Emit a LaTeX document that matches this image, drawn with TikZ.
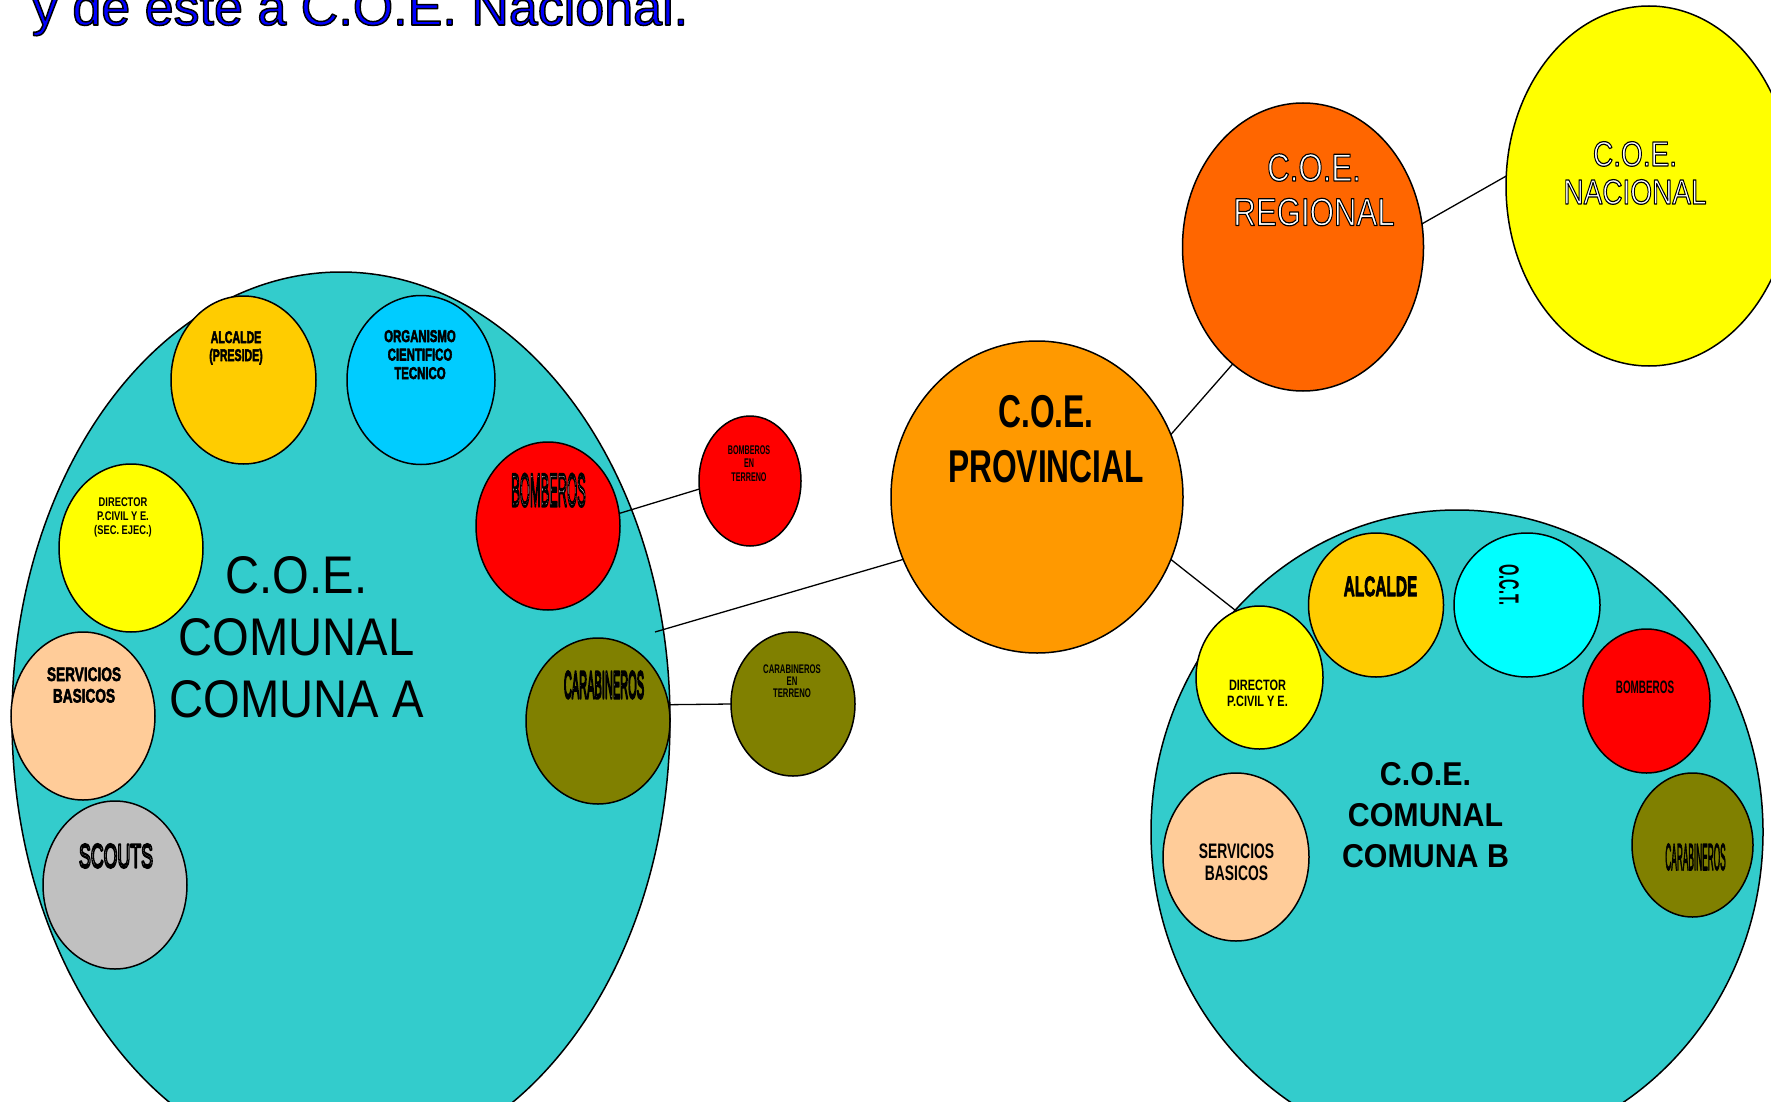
\documentclass[tikz,border=0pt]{standalone}
\usepackage{fontspec}
\setmainfont{Liberation Sans}
\usepackage{graphicx}
\usetikzlibrary{shapes.geometric}
\definecolor{teal1}{HTML}{33CCCC}
\definecolor{gold1}{HTML}{FFCC00}
\definecolor{sky1}{HTML}{00CCFF}
\definecolor{peach1}{HTML}{FFCC99}
\definecolor{gray1}{HTML}{C0C0C0}
\definecolor{olive1}{HTML}{808000}
\definecolor{orange1}{HTML}{FF9900}
\definecolor{orange2}{HTML}{FF6600}
\definecolor{yellow1}{HTML}{FFFF00}
\definecolor{cyan1}{HTML}{00FFFF}
\definecolor{red1}{HTML}{FF0000}
\definecolor{blue1}{HTML}{0000FF}
\newcommand\sx[2]{\scalebox{#1}[1]{#2}}
\newcommand\ml[1]{\begin{tabular}[t]{@{}c@{}}#1\end{tabular}}
% outlined text: fill colour #2, black stroke of width #1
\newcommand\outl[3][1]{{\color{#2}\special{pdf:literal direct 0 G 2 Tr #1 w 1 j}#3\special{pdf:literal direct 0 Tr}}}
\tikzset{
  blob/.style={ellipse, draw=black, line width=1.5pt, inner sep=0pt, outer sep=0pt},
  lbl/.style={inner sep=0pt, outer sep=0pt, anchor=base, text=black},
  conn/.style={draw=black, line width=1.3pt},
}
\begin{document}
\begin{tikzpicture}[x=1pt, y=-1pt]
\useasboundingbox (0,0) rectangle (1771,1102);
\clip (0,0) rectangle (1771,1102);
\fill[white] (0,0) rectangle (1771,1102);

% title
\node[lbl, anchor=base west, font=\fontsize{52}{60}\selectfont] (title) at (32,25)
  {\outl[1.5]{blue1}{y de este a C.O.E. Nacional.}};

% comuna A
\node[blob, fill=teal1, minimum width=658pt, minimum height=896pt] (ca) at (341,720) {};
\node[blob, fill=gold1, minimum width=145pt, minimum height=168pt] (alcA) at (243.5,380) {};
\node[blob, fill=sky1, minimum width=148pt, minimum height=169pt] (org) at (421,380) {};
\node[blob, fill=red1, minimum width=144pt, minimum height=168pt] (bomb) at (548,526) {};
\node[blob, fill=olive1, minimum width=144pt, minimum height=166pt] (carab) at (598,721) {};
\node[blob, fill=yellow1, minimum width=144pt, minimum height=168pt] (dirA) at (131,548) {};
\node[blob, fill=peach1, minimum width=144pt, minimum height=168pt] (servA) at (83,716) {};
\node[blob, fill=gray1, minimum width=144pt, minimum height=168pt] (scouts) at (115,885) {};

% outside small ones
\node[blob, fill=red1, minimum width=102pt, minimum height=130pt] (bombt) at (750,481) {};
\node[blob, fill=olive1, minimum width=124pt, minimum height=144pt] (carabt) at (793,704) {};

% upper levels
\node[blob, fill=orange1, minimum width=292pt, minimum height=312pt] (prov) at (1037,497) {};
\node[blob, fill=orange2, minimum width=241pt, minimum height=288pt] (reg) at (1303,247) {};
\node[blob, fill=yellow1, minimum width=286pt, minimum height=360pt] (nac) at (1649,186) {};

% comuna B
\node[blob, fill=teal1, minimum width=612pt, minimum height=644pt] (cb) at (1457,832) {};
\node[blob, fill=gold1, minimum width=135pt, minimum height=144pt] (alcB) at (1376,605) {};
\node[blob, fill=yellow1, minimum width=127pt, minimum height=143pt] (dirB) at (1259.5,677.5) {};
\node[blob, fill=cyan1, minimum width=146pt, minimum height=144pt] (oct) at (1527,605) {};
\node[blob, fill=red1, minimum width=127pt, minimum height=144pt] (bombB) at (1646.5,701) {};
\node[blob, fill=olive1, minimum width=121pt, minimum height=144pt] (carabB) at (1692.5,845) {};
\node[blob, fill=peach1, minimum width=146pt, minimum height=168pt] (servB) at (1236,857) {};

% connectors
\coordinate (aend) at (655,632);
\draw[conn] (bomb.10) -- (bombt.189);
\draw[conn] (carab.13) -- (carabt.west);
\draw[conn] (aend) -- (prov.205);
\draw[conn] (prov.25) -- (reg.239);
\draw[conn] (reg.11) -- (nac.176);
\draw[conn] (prov.335) -- (cb.135);

% labels
\node[lbl, font=\fontsize{53}{62}\selectfont] (t-ca) at (296.5,593)
  {\ml{\sx{0.89}{C.O.E.}\\\sx{0.89}{COMUNAL}\\\sx{0.89}{COMUNA A}}};
\node[lbl, font=\fontsize{16.8}{18}\selectfont\bfseries] (t-alcA) at (236,343)
  {\ml{\outl[0.6]{black}{\sx{0.63}{ALCALDE}}\\\outl[0.6]{black}{\sx{0.63}{(PRESIDE)}}}};
\node[lbl, font=\fontsize{17}{18.5}\selectfont\bfseries] (t-org) at (420,342)
  {\ml{\outl[0.6]{black}{\sx{0.67}{ORGANISMO}}\\\outl[0.6]{black}{\sx{0.67}{CIENTIFICO}}\\\outl[0.6]{black}{\sx{0.67}{TECNICO}}}};
\node[lbl, font=\fontsize{46}{50}\selectfont] (t-bomb) at (548.5,506)
  {\ml{\outl[3]{white}{\sx{0.28}{BOMBEROS}}}};
\node[lbl, font=\fontsize{38}{42}\selectfont] (t-carab) at (604,698)
  {\ml{\outl[3]{white}{\sx{0.29}{CARABINEROS}}}};
\node[lbl, font=\fontsize{12.6}{14}\selectfont\bfseries] (t-dirA) at (123,506)
  {\ml{\sx{0.74}{DIRECTOR}\\\sx{0.74}{P.CIVIL Y E.}\\\sx{0.74}{(SEC. EJEC.)}}};
\node[lbl, font=\fontsize{19.5}{21.5}\selectfont\bfseries] (t-servA) at (84,681)
  {\ml{\outl[0.6]{black}{\sx{0.7}{SERVICIOS}}\\\outl[0.6]{black}{\sx{0.7}{BASICOS}}}};
\node[lbl, font=\fontsize{33.5}{36}\selectfont] (t-scouts) at (116,867.5)
  {\ml{\outl[2.4]{white}{\sx{0.53}{SCOUTS}}}};

\node[lbl, font=\fontsize{12.6}{13.5}\selectfont\bfseries] (t-bombt) at (749,454)
  {\ml{\sx{0.57}{BOMBEROS}\\\sx{0.57}{EN}\\\sx{0.57}{TERRENO}}};
\node[lbl, font=\fontsize{12.5}{12}\selectfont\bfseries] (t-carabt) at (792,673)
  {\ml{\sx{0.62}{CARABINEROS}\\\sx{0.62}{EN}\\\sx{0.62}{TERRENO}}};

\node[lbl, font=\fontsize{46}{55}\selectfont\bfseries] (t-prov) at (1046,427)
  {\ml{\sx{0.69}{C.O.E.}\\\sx{0.69}{PROVINCIAL}}};
\node[lbl, font=\fontsize{39}{44.5}\selectfont] (t-reg) at (1314,181)
  {\ml{\outl[1.2]{white}{\sx{0.8}{C.O.E.}}\\\outl[1.2]{white}{\sx{0.8}{REGIONAL}}}};
\node[lbl, font=\fontsize{35}{38}\selectfont] (t-nac) at (1635,166)
  {\ml{\outl[1.2]{white}{\sx{0.8}{C.O.E.}}\\\outl[1.2]{white}{\sx{0.8}{NACIONAL}}}};

\node[lbl, font=\fontsize{33}{41}\selectfont\bfseries] (t-cb) at (1425.5,785)
  {\ml{\sx{0.92}{C.O.E.}\\\sx{0.92}{COMUNAL}\\\sx{0.92}{COMUNA B}}};
\node[lbl, font=\fontsize{15}{16}\selectfont\bfseries] (t-dirB) at (1257.5,690)
  {\ml{\sx{0.73}{DIRECTOR}\\\sx{0.73}{P.CIVIL Y E.}}};
\node[lbl, font=\fontsize{28}{30}\selectfont\bfseries] (t-alcB) at (1380.5,596)
  {\ml{\outl[1]{black}{\sx{0.55}{ALCALDE}}}};
\node[inner sep=0pt, rotate=-90, font=\fontsize{28}{30}\selectfont\bfseries] (t-oct) at (1509,585)
  {\sx{0.52}{O.C.T.}};
\node[lbl, font=\fontsize{18}{20}\selectfont\bfseries] (t-bombB) at (1645,693)
  {\ml{\sx{0.55}{BOMBEROS}}};
\node[lbl, font=\fontsize{37.7}{40}\selectfont] (t-carabB) at (1695.5,870)
  {\ml{\outl[1.5]{black}{\sx{0.22}{CARABINEROS}}}};
\node[lbl, font=\fontsize{21}{22}\selectfont\bfseries] (t-servB) at (1236.5,858)
  {\ml{\sx{0.66}{SERVICIOS}\\\sx{0.66}{BASICOS}}};
\end{tikzpicture}
\end{document}
